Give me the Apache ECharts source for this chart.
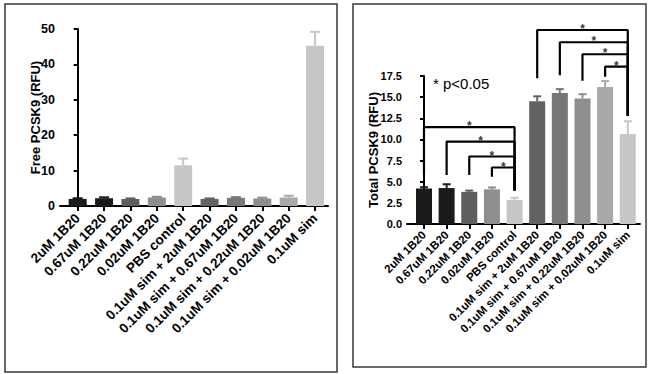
<!DOCTYPE html>
<html>
<head>
<meta charset="utf-8">
<script src="https://cdn.jsdelivr.net/npm/echarts@6/dist/echarts.min.js"></script>
<style>
html,body{margin:0;padding:0;background:#fff;}
#c{width:652px;height:374px;}
</style>
</head>
<body>
<div id="c"></div>
<script>
// ---- data ----
const categories = ['2uM 1B20','0.67uM 1B20','0.22uM 1B20','0.02uM 1B20','PBS control',
  '0.1uM sim + 2uM 1B20','0.1uM sim + 0.67uM 1B20','0.1uM sim + 0.22uM 1B20','0.1uM sim + 0.02uM 1B20','0.1uM sim'];
const freeMean = [2.0, 2.2, 2.0, 2.4, 11.5, 2.0, 2.3, 2.1, 2.4, 45.3];
const freeErr  = [0.2, 0.25, 0.15, 0.2, 1.9, 0.15, 0.2, 0.25, 0.5, 3.9];
const totalMean = [4.2, 4.25, 3.8, 4.1, 2.85, 14.5, 15.5, 14.85, 16.2, 10.65];
const totalErr  = [0.15, 0.45, 0.15, 0.22, 0.25, 0.6, 0.45, 0.5, 0.7, 1.5];
const freeTicks = [0, 10, 20, 30, 40, 50];
const totalTicks = [0, 2.5, 5, 7.5, 10, 12.5, 15, 17.5];
// significance brackets (category indices and heights in RFU)
const bracketFrom = [0, 1, 2, 3, 5, 6, 7, 8];
const bracketTo   = [4, 4, 4, 4, 9, 9, 9, 9];
const bracketTop  = [11.45, 9.75, 7.98, 6.68, 22.94, 21.49, 20.07, 18.6];
const bracketLeftBottom  = [5.94, 5.8, 5.8, 5.6, 17.24, 17.6, 16.95, 17.4];
const bracketRightBottom = [3.97, 3.97, 3.97, 3.97, 12.8, 12.8, 12.8, 12.8];
const sigNote = '* p<0.05';
const freeTitle = 'Free PCSK9 (RFU)';
const totalTitle = 'Total PCSK9 (RFU)';

// ---- styles ----
const barColors = ['#1b1b1b','#1b1b1b','#5e5e5e','#8e8e8e','#c6c6c6','#636363','#787878','#8e8e8e','#a9a9a9','#c6c6c6'];
const FONT = '"Liberation Sans", Arial, Helvetica, sans-serif';
const idx = categories.map((_, i) => i);

function barData(vals){ return vals.map((v, i) => ({ value: [i, v], itemStyle: { color: barColors[i] } })); }
function errData(mean, err){ return mean.map((m, i) => [i, m, m + err[i]]); }
function errRender(capHalf){
  return function(params, api){
    const i = params.dataIndex;
    const p0 = api.coord([i, api.value(1)]);
    const p1 = api.coord([i, api.value(2)]);
    const c = barColors[i];
    return { type: 'group', children: [
      { type: 'line', shape: { x1: p0[0], y1: p0[1], x2: p1[0], y2: p1[1] }, style: { stroke: c, lineWidth: 2 } },
      { type: 'line', shape: { x1: p1[0] - capHalf, y1: p1[1], x2: p1[0] + capHalf, y2: p1[1] }, style: { stroke: c, lineWidth: 2 } }
    ]};
  };
}
function xAxisCfg(gridIndex, min, max, fontSize, margin){
  return {
    type: 'value', gridIndex, min, max,
    splitLine: { show: false },
    axisLine: { show: true, onZero: false, lineStyle: { color: '#000', width: 2 } },
    axisTick: { show: true, customValues: idx, length: 5, lineStyle: { color: '#000', width: 2 } },
    axisLabel: { customValues: idx, rotate: 45, margin, color: '#000', fontWeight: 'bold', fontSize, fontFamily: FONT,
      formatter: v => categories[Math.round(v)] }
  };
}
function yAxisCfg(gridIndex, ticks, name, nameGap, fontSize, fmt){
  return {
    type: 'value', gridIndex, min: ticks[0], max: ticks[ticks.length-1], interval: ticks[1]-ticks[0],
    name, nameLocation: 'middle', nameGap, nameMoveOverlap: false,
    nameTextStyle: { color: '#000', fontWeight: 'bold', fontSize: 13, fontFamily: FONT },
    splitLine: { show: false },
    axisLine: { show: true, lineStyle: { color: '#000', width: 2 } },
    axisTick: { show: true, length: 4, lineStyle: { color: '#000', width: 2 } },
    axisLabel: { color: '#000', fontWeight: 'bold', fontSize, fontFamily: FONT, margin: 5, formatter: fmt }
  };
}
// one line series per significance bracket, drawn through the right-hand axes
const bracketSeries = bracketFrom.map((f, k) => ({
  type: 'line', xAxisIndex: 1, yAxisIndex: 1, clip: false, z: 4, silent: true,
  symbol: 'none', lineStyle: { color: '#000', width: 2.2 },
  data: [[f, bracketLeftBottom[k]], [f, bracketTop[k]], [bracketTo[k], bracketTop[k]], [bracketTo[k], bracketRightBottom[k]]]
}));
const starSeries = {
  type: 'scatter', xAxisIndex: 1, yAxisIndex: 1, clip: false, z: 5, silent: true,
  symbol: 'circle', symbolSize: 1, itemStyle: { color: 'rgba(0,0,0,0)' },
  label: { show: true, position: 'inside', offset: [0, -1], formatter: '*', color: '#000',
    fontWeight: 'bold', fontSize: 12, fontFamily: FONT },
  data: bracketFrom.map((f, k) => [(f + bracketTo[k]) / 2, bracketTop[k]])
};
const chart = echarts.init(document.getElementById('c'), null, { renderer: 'svg' });
chart.setOption({
  animation: false,
  backgroundColor: '#fff',
  graphic: [
    { type: 'rect', shape: { x: 5, y: 4, width: 332, height: 368 }, style: { fill: 'none', stroke: '#3a3a3a', lineWidth: 1.5 } },
    { type: 'rect', shape: { x: 353, y: 4, width: 293, height: 363 }, style: { fill: 'none', stroke: '#3a3a3a', lineWidth: 1.5 } }
  ],
  title: { text: sigNote, left: 428, top: 71, textStyle: { color: '#000', fontWeight: 'normal', fontSize: 15, fontFamily: FONT } },
  grid: [ { left: 60, top: 29, width: 268, height: 177 }, { left: 407, top: 76, width: 233, height: 148 } ],
  xAxis: [ xAxisCfg(0, -0.67, 9.49, 13.5, 10), xAxisCfg(1, -0.75, 9.54, 11.5, 9) ],
  yAxis: [ yAxisCfg(0, freeTicks, freeTitle, 18, 12.5, v => String(v)), yAxisCfg(1, totalTicks, totalTitle, 27, 11, v => v.toFixed(1)) ],
  series: [
    { type: 'bar', xAxisIndex: 0, yAxisIndex: 0, barWidth: 18, data: barData(freeMean) },
    { type: 'custom', xAxisIndex: 0, yAxisIndex: 0, renderItem: errRender(5), encode: { x: 0, y: [1, 2] }, data: errData(freeMean, freeErr), z: 3 },
    { type: 'bar', xAxisIndex: 1, yAxisIndex: 1, barWidth: 16, data: barData(totalMean) },
    { type: 'custom', xAxisIndex: 1, yAxisIndex: 1, renderItem: errRender(4), encode: { x: 0, y: [1, 2] }, data: errData(totalMean, totalErr), z: 3 }
  ].concat(bracketSeries, [starSeries])
});
</script>
</body>
</html>
